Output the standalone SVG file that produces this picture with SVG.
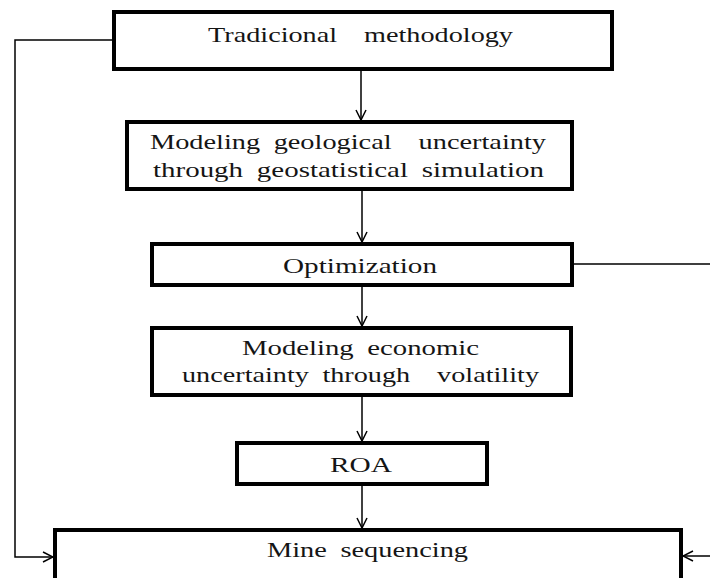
<svg xmlns="http://www.w3.org/2000/svg" width="710" height="578" viewBox="0 0 710 578">
<style>
.box{fill:#fff;stroke:#000;stroke-width:4}
.c{fill:none;stroke:#000;stroke-width:1.5}
.t{font-family:"Liberation Serif","Times New Roman",serif;font-size:22px;fill:#151515;white-space:pre;word-spacing:5px}
</style>
<defs>
<marker id="a" viewBox="0 0 12 12" refX="11" refY="6" markerWidth="12" markerHeight="12" markerUnits="userSpaceOnUse" orient="auto">
<path d="M1 1 L11 6 L1 11" fill="none" stroke="#000" stroke-width="1.5"/>
</marker>
</defs>
<rect width="710" height="578" fill="#fff"/>
<g id="connectors">
<path class="c" d="M361 69 V120" marker-end="url(#a)"/>
<path class="c" d="M362 189 V242" marker-end="url(#a)"/>
<path class="c" d="M362 285 V326" marker-end="url(#a)"/>
<path class="c" d="M362 395 V441" marker-end="url(#a)"/>
<path class="c" d="M362 484 V528" marker-end="url(#a)"/>
<path class="c" d="M114 40 H15 V557 H53" marker-end="url(#a)"/>
<path class="c" d="M570 264 H712 V556 H683" marker-end="url(#a)"/>
</g>
<g id="n1">
<rect class="box" x="114" y="12" width="498" height="57"/>
<text class="t" x="208" y="42" font-size="23" textLength="305" lengthAdjust="spacingAndGlyphs">Tradicional  methodology</text>
</g>
<g id="n2">
<rect class="box" x="127" y="122" width="445" height="67"/>
<text class="t" x="150" y="149" textLength="396" lengthAdjust="spacingAndGlyphs">Modeling geological  uncertainty</text>
<text class="t" x="153" y="177" textLength="391" lengthAdjust="spacingAndGlyphs">through geostatistical simulation</text>
</g>
<g id="n3">
<rect class="box" x="152" y="244" width="420" height="41"/>
<text class="t" x="283" y="273" textLength="154" lengthAdjust="spacingAndGlyphs">Optimization</text>
</g>
<g id="n4">
<rect class="box" x="152" y="328" width="419" height="67"/>
<text class="t" x="242" y="355" textLength="237" lengthAdjust="spacingAndGlyphs">Modeling economic</text>
<text class="t" x="182" y="382" textLength="357" lengthAdjust="spacingAndGlyphs">uncertainty through  volatility</text>
</g>
<g id="n5">
<rect class="box" x="237" y="443" width="250" height="41"/>
<text class="t" x="330" y="472" textLength="62" lengthAdjust="spacingAndGlyphs">ROA</text>
</g>
<g id="n6">
<rect class="box" x="55" y="530" width="626" height="70"/>
<text class="t" x="267" y="557" textLength="201" lengthAdjust="spacingAndGlyphs">Mine sequencing</text>
</g>
</svg>
